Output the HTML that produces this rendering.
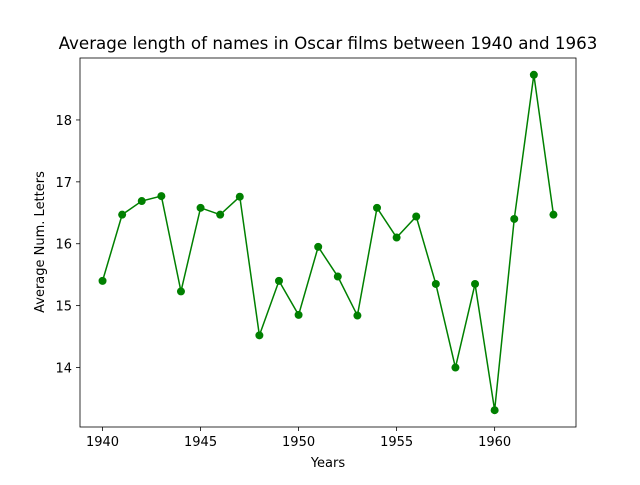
<!DOCTYPE html>
<html><head><meta charset="utf-8"><style>
body{margin:0;background:#fff;}
svg text{font-family:"DejaVu Sans","Liberation Sans",sans-serif;}
</style></head><body>
<svg id="c" width="640" height="480" xmlns="http://www.w3.org/2000/svg">
<rect width="640" height="480" fill="#fff"/>
<text x="328" y="49" font-size="16.7" text-anchor="middle">Average length of names in Oscar films between 1940 and 1963</text>
<text x="328" y="467" font-size="13" text-anchor="middle">Years</text>
<text transform="translate(44,242) rotate(-90)" font-size="13" text-anchor="middle">Average Num. Letters</text>
<g id="g"></g>
</svg>
<script>
const years=[1940,1941,1942,1943,1944,1945,1946,1947,1948,1949,1950,1951,1952,1953,1954,1955,1956,1957,1958,1959,1960,1961,1962,1963];
const values=[15.40,16.47,16.69,16.77,15.23,16.58,16.47,16.76,14.52,15.40,14.85,15.95,15.47,14.84,16.58,16.10,16.44,15.35,14.0,15.35,13.31,16.40,18.73,16.47];
const xTicks=[1940,1945,1950,1955,1960];
const yTicks=[14,15,16,17,18];
const L=80,R=576,T=58,B=427;
const xmin=Math.min(...years),xmax=Math.max(...years),xm=(xmax-xmin)*0.05;
const ymin=Math.min(...values),ymax=Math.max(...values),ym=(ymax-ymin)*0.05;
const sx=v=>L+(v-(xmin-xm))/((xmax+xm)-(xmin-xm))*(R-L);
const sy=v=>B-(v-(ymin-ym))/((ymax+ym)-(ymin-ym))*(B-T);
const NS="http://www.w3.org/2000/svg",g=document.getElementById('g');
function mk(t,a){const e=document.createElementNS(NS,t);for(const k in a)e.setAttribute(k,a[k]);g.appendChild(e);return e;}
xTicks.forEach(t=>{const x=sx(t);
const l=mk('line',{x1:x,x2:x,y1:B,y2:B+4,stroke:'#000','stroke-width':0.8});


const tx=mk('text',{x:x,y:B+19,'font-size':13,'text-anchor':'middle'});tx.textContent=t;

});
yTicks.forEach(t=>{const y=sy(t);
const l=mk('line',{x1:L-4,x2:L,y1:y,y2:y,stroke:'#000','stroke-width':0.8});


const tx=mk('text',{x:L-8,y:y+5,'font-size':13,'text-anchor':'end'});tx.textContent=t;

});
const pl=mk('polyline',{points:years.map((y,i)=>sx(y)+','+sy(values[i])).join(' '),fill:'none',stroke:'#008000','stroke-width':1.5});


years.forEach((y,i)=>{const c=mk('circle',{cx:sx(y),cy:sy(values[i]),r:4,fill:'#008000'});

});
const fr=mk('rect',{x:L,y:T,width:R-L,height:B-T,fill:'none',stroke:'#000','stroke-width':0.8});


</script>
</body></html>
